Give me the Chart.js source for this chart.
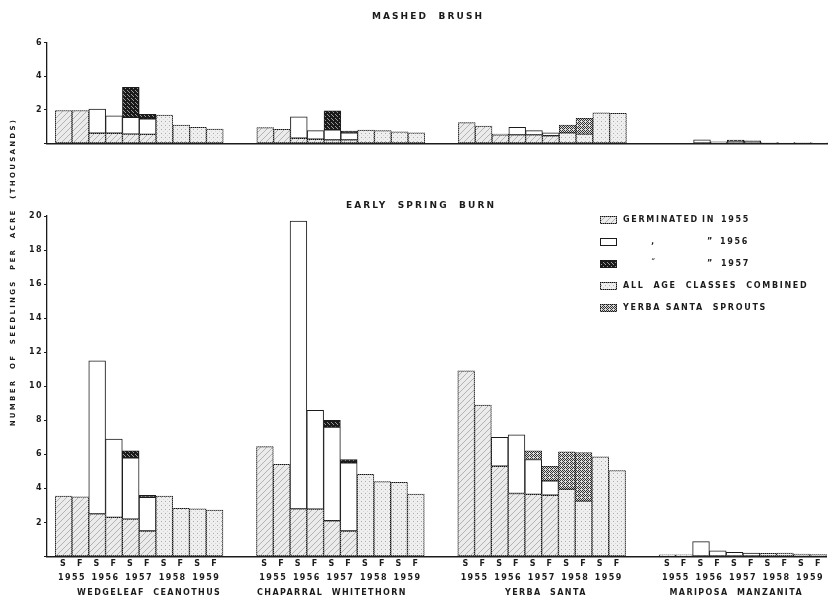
<!DOCTYPE html>
<html>
<head>
<meta charset="utf-8">
<script src="https://cdn.jsdelivr.net/npm/chart.js@4.4.1/dist/chart.umd.min.js"></script>
<style>
  html, body { margin: 0; padding: 0; background: #fff; }
  #wrap { position: relative; width: 828px; height: 600px; overflow: hidden; }
  #burn, #brush { position: absolute; left: 0; top: 0; }
</style>
</head>
<body>
<div id="wrap">
  <canvas id="burn" width="828" height="600"></canvas>
  <canvas id="brush" width="828" height="150"></canvas>
</div>
<script>
// ---- Labels ----
const species = ['WEDGELEAF  CEANOTHUS', 'CHAPARRAL  WHITETHORN', 'YERBA  SANTA', 'MARIPOSA  MANZANITA'];
const seasons = ['S', 'F'];
const years = ['1955', '1956', '1957', '1958', '1959'];

// ---- Seedlings per acre (thousands); 10 samplings per species: S/F 1955 ... S/F 1959 ----
// Mashed brush
const brushGerm1955 = [
  1.95, 1.95, 0.6, 0.6, 0.55, 0.53, null, null, null, null,
  0.93, 0.83, 0.3, 0.24, 0.2, 0.2, null, null, null, null,
  1.23, 1.03, 0.5, 0.5, 0.5, 0.45, null, null, null, null,
  null, null, 0.03, 0.03, 0.03, 0.03, null, null, null, null
];
const brushGerm1956 = [
  null, null, 1.43, 1.03, 1.0, 0.92, null, null, null, null,
  null, null, 1.28, 0.51, 0.6, 0.42, null, null, null, null,
  null, null, 0.05, 0.45, 0.25, 0.18, null, null, null, null,
  null, null, 0.17, 0.06, 0.1, 0.09, null, null, null, null
];
const brushGerm1957 = [
  null, null, null, null, 1.78, 0.27, null, null, null, null,
  null, null, null, null, 1.14, 0.11, null, null, null, null,
  null, null, null, null, null, null, null, null, null, null,
  null, null, null, null, 0.06, 0.03, null, null, null, null
];
const brushAllAges = [
  null, null, null, null, null, null, 1.68, 1.09, 0.95, 0.85,
  null, null, null, null, null, null, 0.79, 0.75, 0.69, 0.63,
  null, null, null, null, null, null, 0.63, 0.55, 1.82, 1.79,
  null, null, null, null, null, null, 0.06, 0.05, 0.04, 0.03
];
const brushSprouts = [
  null, null, null, null, null, null, null, null, null, null,
  null, null, null, null, null, null, null, null, null, null,
  null, null, null, null, null, null, 0.46, 0.94, null, null,
  null, null, null, null, null, null, null, null, null, null
];

// Early spring burn
const burnGerm1955 = [
  3.55, 3.5, 2.5, 2.3, 2.2, 1.5, null, null, null, null,
  6.45, 5.42, 2.8, 2.78, 2.1, 1.5, null, null, null, null,
  10.9, 8.9, 5.3, 3.7, 3.65, 3.6, null, null, null, null,
  0.1, 0.1, 0.05, 0.05, 0.05, 0.05, null, null, null, null
];
const burnGerm1956 = [
  null, null, 9.0, 4.6, 3.6, 1.98, null, null, null, null,
  null, null, 16.9, 5.8, 5.5, 4.0, null, null, null, null,
  null, null, 1.7, 3.45, 2.05, 0.85, null, null, null, null,
  null, null, 0.82, 0.28, 0.2, 0.15, null, null, null, null
];
const burnGerm1957 = [
  null, null, null, null, 0.4, 0.12, null, null, null, null,
  null, null, null, null, 0.4, 0.2, null, null, null, null,
  null, null, null, null, null, null, null, null, null, null,
  null, null, null, null, null, null, null, null, null, null
];
const burnAllAges = [
  null, null, null, null, null, null, 3.55, 2.83, 2.8, 2.73,
  null, null, null, null, null, null, 4.83, 4.4, 4.36, 3.66,
  null, null, null, null, null, null, 3.95, 3.25, 5.85, 5.05,
  null, null, null, null, null, null, 0.18, 0.2, 0.14, 0.12
];
const burnSprouts = [
  null, null, null, null, null, null, null, null, null, null,
  null, null, null, null, null, null, null, null, null, null,
  null, null, null, null, 0.5, 0.85, 2.2, 2.85, null, null,
  null, null, null, null, null, null, null, null, null, null
];

// ---- Slot layout on the shared linear x scale: 10 bars per species, 2 empty slots between ----
const BARS = 10, GROUP = 12;
const X_MIN = -0.99, X_MAX = 45.5;
const NAME_NUDGE = [0.6, -0.5, 0.25, -0.4];   // species captions sit slightly off their group centre
const slotOf = k => Math.floor(k / BARS) * GROUP + (k % BARS);

const seasonTicks = [], seasonLabels = [], yearTicks = [], yearLabels = [], nameTicks = [], nameLabels = [];
species.forEach((name, g) => {
  for (let b = 0; b < BARS; b++) { seasonTicks.push(g * GROUP + b); seasonLabels.push(seasons[b % 2]); }
  years.forEach((yr, i) => { yearTicks.push(g * GROUP + 2 * i + 0.5); yearLabels.push(yr); });
  nameTicks.push(g * GROUP + (BARS - 1) / 2 + NAME_NUDGE[g]); nameLabels.push(name);
});

// ---- Fill patterns ----
function makePattern(size, draw) {
  const c = document.createElement('canvas');
  c.width = c.height = size;
  const g = c.getContext('2d');
  draw(g, size);
  return g.createPattern(c, 'repeat');
}
const px = (g, color, pts) => { g.fillStyle = color; pts.forEach(([x, y]) => g.fillRect(x, y, 1, 1)); };

const hatchFill = makePattern(6, (g, s) => {
  g.fillStyle = '#ebebeb'; g.fillRect(0, 0, s, s);
  g.strokeStyle = '#a4a4a4'; g.lineWidth = 0.8;
  g.beginPath();
  g.moveTo(-1, s + 1); g.lineTo(s + 1, -1);
  g.moveTo(-1, 1); g.lineTo(1, -1);
  g.moveTo(s - 1, s + 1); g.lineTo(s + 1, s - 1);
  g.stroke();
});
const dotFill = makePattern(4, (g, s) => {
  g.fillStyle = '#efefef'; g.fillRect(0, 0, s, s);
  px(g, '#ababab', [[1, 1]]);
  px(g, '#d4d4d4', [[3, 3]]);
});
const darkFill = makePattern(4, (g, s) => {
  g.fillStyle = '#1a1a1a'; g.fillRect(0, 0, s, s);
  px(g, '#9a9a9a', [[1, 0], [3, 2], [0, 3]]);
});
const sproutFill = makePattern(4, (g, s) => {
  g.fillStyle = '#dcdcdc'; g.fillRect(0, 0, s, s);
  px(g, '#333333', [[0, 0], [2, 0], [3, 1], [0, 2], [2, 2], [1, 3], [3, 3]]);
});
const dottedEdge = makePattern(2, (g, s) => {
  g.fillStyle = '#7a7a7a'; g.fillRect(0, 0, s, s);
  px(g, '#111111', [[0, 0], [1, 1]]);
});

const INK = '#1b1b1b';
const STYLES = {
  g1955: { fill: hatchFill, edge: dottedEdge },
  g1956: { fill: '#ffffff', edge: INK },
  g1957: { fill: darkFill, edge: INK },
  all:   { fill: dotFill, edge: dottedEdge },
  sprout:{ fill: sproutFill, edge: dottedEdge }
};

function series(label, values, style) {
  return {
    label,
    data: values.map((v, k) => v == null ? null : { x: slotOf(k), y: v }).filter(Boolean),
    backgroundColor: style.fill,
    borderColor: style.edge,
    borderWidth: 1,
    borderSkipped: false,
    barPercentage: 1,
    categoryPercentage: 1
  };
}
function panel(g55, all, g56, g57, sp) {
  return [
    series('Germinated in 1955', g55, STYLES.g1955),
    series('All age classes combined', all, STYLES.all),
    series('Germinated in 1956', g56, STYLES.g1956),
    series('Germinated in 1957', g57, STYLES.g1957),
    series('Yerba santa sprouts', sp, STYLES.sprout)
  ];
}

const FAMILY = '"DejaVu Sans", "Liberation Sans", sans-serif';
const tickFont = { family: FAMILY, size: 8, weight: 'bold' };

// letter-spaced lettering for all text drawn by the charts
const lettering = {
  id: 'lettering',
  beforeUpdate(chart) { chart.ctx.letterSpacing = '1.4px'; },
  beforeDraw(chart) { chart.ctx.letterSpacing = '1.4px'; }
};

function drawText(ctx, text, x, y, opts) {
  ctx.save();
  ctx.font = `bold ${opts.size}px ${FAMILY}`;
  ctx.letterSpacing = opts.spacing + 'px';
  ctx.fillStyle = INK;
  ctx.textAlign = opts.align || 'left';
  ctx.textBaseline = 'middle';
  if (opts.rotate) { ctx.translate(x, y); ctx.rotate(opts.rotate); ctx.fillText(text, 0, 0); }
  else ctx.fillText(text, x, y);
  ctx.restore();
}

const legendRows = [
  { style: STYLES.g1955, parts: [[623, 'GERMINATED'], [702, 'IN'], [721, '1955']] },
  { style: STYLES.g1956, parts: [[651, '\u201A'], [707, '\u201D'], [720, '1956']] },
  { style: STYLES.g1957, parts: [[651, '\u02DD'], [707, '\u201D'], [721, '1957']] },
  { style: STYLES.all,   parts: [[623, 'ALL  AGE  CLASSES  COMBINED']] },
  { style: STYLES.sprout,parts: [[623, 'YERBA SANTA  SPROUTS']] }
];

const burnDecor = {
  id: 'burnDecor',
  beforeDraw(chart) {
    const ctx = chart.ctx;
    ctx.save();
    ctx.fillStyle = '#ffffff';
    ctx.fillRect(0, 0, chart.width, chart.height);
    ctx.restore();
  },
  afterDraw(chart) {
    const ctx = chart.ctx;
    drawText(ctx, 'EARLY  SPRING  BURN', 421, 206, { size: 9, spacing: 2.1, align: 'center' });
    drawText(ctx, 'NUMBER  OF  SEEDLINGS  PER  ACRE  (THOUSANDS)', 13, 272,
      { size: 7, spacing: 2.3, align: 'center', rotate: -Math.PI / 2 });
    legendRows.forEach((row, i) => {
      const y = 220 + i * 22;
      ctx.save();
      ctx.fillStyle = row.style.edge;
      ctx.fillRect(600, y - 4, 17, 8);
      ctx.fillStyle = row.style.fill;
      ctx.fillRect(601, y - 3, 15, 6);
      ctx.restore();
      row.parts.forEach(([x, t]) => drawText(ctx, t, x, y, { size: 8, spacing: 1.7 }));
    });
  }
};

const brushDecor = {
  id: 'brushDecor',
  afterDraw(chart) {
    drawText(chart.ctx, 'MASHED  BRUSH', 428, 17, { size: 9, spacing: 2.1, align: 'center' });
  }
};

const setTicks = list => scale => { scale.ticks = list.map(v => ({ value: v })); };
const hiddenGrid = { display: false, drawTicks: false, offset: false };

function xAxis(extra) {
  return Object.assign({
    type: 'linear', min: X_MIN, max: X_MAX, bounds: 'data', offset: false, position: 'bottom',
    grid: hiddenGrid,
    border: { display: false }
  }, extra);
}
function yAxis(max) {
  return {
    stacked: true, min: 0, max,
    grid: { drawOnChartArea: false, drawTicks: true, tickLength: 3, color: INK, lineWidth: 1 },
    border: { color: INK, width: 1.3 },
    ticks: { stepSize: 2, padding: 1, color: INK, font: tickFont, callback: v => (v === 0 ? '' : v) },
    afterFit: s => { s.width = 47; }
  };
}

const common = {
  responsive: false,
  animation: false,
  events: [],
  plugins: { legend: { display: false }, tooltip: { enabled: false } }
};

// Early spring burn (lower panel, full canvas so the axis title and legend fit)
new Chart(document.getElementById('burn'), {
  type: 'bar',
  data: { datasets: panel(burnGerm1955, burnAllAges, burnGerm1956, burnGerm1957, burnSprouts) },
  options: Object.assign({}, common, {
    layout: { padding: { top: 216, bottom: 1.5, left: 0, right: 0 } },
    scales: {
      x: xAxis({
        stacked: true, weight: 0,
        border: { display: true, color: INK, width: 1.5 },
        afterBuildTicks: setTicks(seasonTicks),
        afterFit: s => { s.height = 13; },
        ticks: { autoSkip: false, maxRotation: 0, minRotation: 0, padding: 3, color: INK, font: tickFont,
                 callback: (v, i) => seasonLabels[i] }
      }),
      xYear: xAxis({
        weight: 1,
        afterBuildTicks: setTicks(yearTicks),
        afterFit: s => { s.height = 15; },
        ticks: { autoSkip: false, maxRotation: 0, minRotation: 0, padding: 4, color: INK, font: tickFont,
                 callback: (v, i) => yearLabels[i] }
      }),
      xName: xAxis({
        weight: 2,
        afterBuildTicks: setTicks(nameTicks),
        afterFit: s => { s.height = 14; },
        ticks: { autoSkip: false, maxRotation: 0, minRotation: 0, padding: 4, color: INK, font: tickFont,
                 callback: (v, i) => nameLabels[i] }
      }),
      y: yAxis(20)
    }
  }),
  plugins: [lettering, burnDecor]
});

// Mashed brush (upper panel)
new Chart(document.getElementById('brush'), {
  type: 'bar',
  data: { datasets: panel(brushGerm1955, brushAllAges, brushGerm1956, brushGerm1957, brushSprouts) },
  options: Object.assign({}, common, {
    layout: { padding: { top: 42.5, bottom: 6.7, left: 0, right: 0 } },
    scales: {
      x: xAxis({
        stacked: true,
        border: { display: true, color: INK, width: 1.5 },
        afterBuildTicks: setTicks(seasonTicks),
        afterFit: s => { s.height = 0; },
        ticks: { display: false }
      }),
      y: yAxis(6)
    }
  }),
  plugins: [lettering, brushDecor]
});
</script>
</body>
</html>
